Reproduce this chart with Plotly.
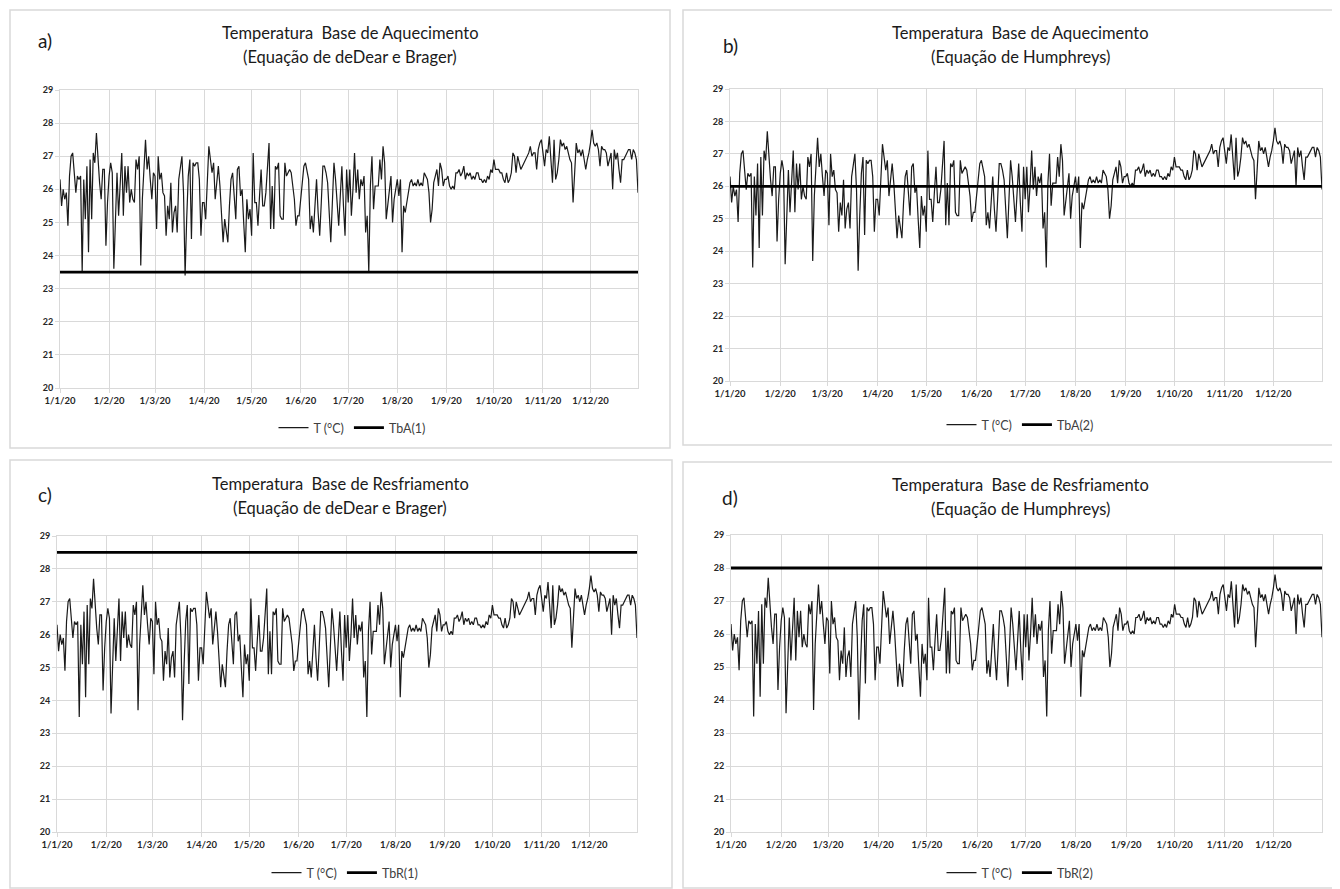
import pandas as pd
import plotly.graph_objects as go

# ---------------- data (daily mean temperature, 2020) ----------------
jan = [26.3, 25.5, 26.0, 25.7, 25.9, 24.9, 26.4, 27.0, 27.1, 26.6, 25.9, 26.4, 26.3, 26.4, 23.5, 26.3,
       25.1, 26.7, 24.1, 26.9, 25.1, 27.1, 26.8, 27.7, 26.9, 26.2, 25.7, 26.6, 26.6, 24.3, 25.6]
feb = [26.4, 26.8, 26.5, 23.6, 25.2, 26.5, 25.2, 26.3, 27.1, 25.2, 26.7, 25.9, 26.7, 25.6, 26.0,
       25.7, 25.6, 26.9, 26.6, 27.0, 23.7, 25.7, 26.6, 27.5, 26.6, 27.0, 26.3, 25.7, 26.5]
mar = [26.4, 24.8, 27.0, 26.3, 26.5, 25.9, 25.8, 24.6, 25.5, 25.1, 26.2, 24.7, 25.3, 25.5, 24.7, 26.3,
       26.6, 27.0, 25.9, 23.4, 25.1, 26.4, 26.9, 24.5, 26.8, 26.7, 26.8, 26.8, 26.3, 24.6, 25.6]
apr = [25.6, 25.1, 26.4, 27.3, 26.9, 26.5, 26.8, 25.7, 26.2, 26.7, 26.1, 25.2, 24.4, 25.1, 24.8,
       24.4, 25.5, 26.3, 26.5, 25.8, 25.1, 26.6, 26.7, 25.8, 26.0, 25.0, 24.1, 25.7, 25.1, 25.4]
may = [24.6, 27.1, 25.6, 25.6, 24.9, 25.8, 26.6, 25.5, 25.5, 25.9, 26.8, 27.4, 24.8, 26.1, 24.8, 26.7,
       26.6, 26.8, 25.2, 25.1, 25.1, 26.8, 26.4, 26.5, 26.6, 26.5, 26.0, 25.7, 24.9, 25.2, 25.2]
jun = [25.7, 26.2, 26.7, 26.8, 26.5, 26.3, 24.8, 25.2, 24.7, 25.5, 26.3, 25.3, 24.6, 25.6, 26.7,
       26.7, 26.5, 26.2, 25.3, 24.4, 25.6, 26.8, 26.3, 25.6, 24.9, 25.8, 26.7, 25.5, 24.6, 26.6]
jul = [25.6, 26.6, 25.2, 26.0, 27.1, 25.9, 26.6, 25.7, 26.3, 26.1, 26.4, 24.7, 25.2, 23.5, 26.1, 27.0,
       25.4, 26.1, 26.1, 26.1, 26.9, 26.3, 27.3, 26.8, 25.1, 25.6, 26.0, 26.4, 25.0, 25.7, 26.0]
aug = [26.3, 25.8, 26.3, 24.1, 25.5, 25.3, 25.6, 25.8, 26.2, 26.3, 26.1, 26.2, 26.1, 26.3, 26.1, 26.2,
       26.1, 26.5, 26.4, 26.3, 25.9, 25.0, 25.4, 26.2, 26.4, 26.6, 26.1, 26.8, 26.6, 26.1, 26.3]
sep = [26.3, 26.4, 26.1, 26.0, 26.1, 26.0, 26.5, 26.5, 26.6, 26.4, 26.5, 26.7, 26.3, 26.5, 26.4,
       26.5, 26.3, 26.4, 26.3, 26.5, 26.5, 26.3, 26.3, 26.2, 26.3, 26.2, 26.4, 26.3, 26.6, 26.5]
oct_ = [26.9, 26.6, 26.6, 26.6, 26.5, 26.5, 26.3, 26.2, 26.5, 26.2, 26.3, 26.5, 27.1, 27.0, 26.5, 27.0,
        26.8, 26.6, 26.7, 26.8, 26.9, 27.0, 27.1, 27.3, 27.0, 27.1, 27.1, 26.6, 27.2, 27.4, 27.5]
nov = [27.1, 26.7, 27.2, 27.1, 27.6, 27.0, 26.2, 27.5, 26.3, 26.5, 26.9, 27.5, 27.3, 27.4, 27.2,
       27.3, 27.1, 26.9, 26.8, 25.6, 26.5, 27.4, 27.1, 27.2, 27.0, 27.2, 26.9, 26.6, 26.9, 27.1]
dec = [27.4, 27.8, 27.4, 27.3, 27.4, 27.2, 26.7, 27.3, 27.2, 27.2, 27.1, 26.7, 26.9, 27.1, 26.0, 27.2,
       26.9, 27.1, 26.6, 26.2, 26.9, 26.9, 27.0, 27.1, 27.2, 27.2, 26.9, 27.2, 27.1, 26.9, 25.9]

temps = jan + feb + mar + apr + may + jun + jul + aug + sep + oct_ + nov + dec
dates = pd.date_range("2020-01-01", periods=len(temps), freq="D")

# base temperatures
TbA1 = 23.5
TbA2 = 26.0
TbR1 = 28.5
TbR2 = 28.0

month_starts = pd.date_range("2020-01-01", "2020-12-01", freq="MS")
tick_text = [f"1/{d.month}/20" for d in month_starts]

panels = [
    dict(label="a)", t1="Temperatura  Base de Aquecimento", t2="(Equação de deDear e Brager)",
         base=TbA1, bname="TbA(1)"),
    dict(label="b)", t1="Temperatura  Base de Aquecimento", t2="(Equação de Humphreys)",
         base=TbA2, bname="TbA(2)"),
    dict(label="c)", t1="Temperatura  Base de Resfriamento", t2="(Equação de deDear e Brager)",
         base=TbR1, bname="TbR(1)"),
    dict(label="d)", t1="Temperatura  Base de Resfriamento", t2="(Equação de Humphreys)",
         base=TbR2, bname="TbR(2)"),
]

# ---------------- layout geometry (page pixels) ----------------
OFF = 8                      # page body margin
W, H = 1340 - OFF, 889 - OFF
geo = [
    dict(px=(60, 638), py=(90, 388), box=(10, 10, 670, 448), lab=(45, 40), tc=350, ty=(33, 57), lc=352, ly=428),
    dict(px=(730, 1322), py=(89, 381), box=(683, 10, 1339, 445), lab=(730, 45), tc=1020, ty=(33, 57), lc=1020, ly=425),
    dict(px=(57, 637), py=(536, 832), box=(10, 460, 672, 888), lab=(45, 494), tc=340, ty=(484, 508), lc=345, ly=873),
    dict(px=(731, 1322), py=(535, 832), box=(683, 462, 1339, 888), lab=(730, 497), tc=1020, ty=(485, 509), lc=1020, ly=873),
]

def fx(p):
    return (p - OFF) / W

def fy(p):
    return 1 - (p - OFF) / H

FONT = "Lato, Carlito, 'Open Sans', sans-serif"
GRID = "#d9d9d9"

fig = go.Figure()
layout = dict(template="none", width=W, height=H, autosize=False,
              margin=dict(l=0, r=0, t=0, b=0, pad=0, autoexpand=False),
              paper_bgcolor="white", plot_bgcolor="white", showlegend=True,
              font=dict(family=FONT, color="#262626"))
annotations = []
shapes = []

for i, (p, g) in enumerate(zip(panels, geo)):
    n = "" if i == 0 else str(i + 1)
    xa, ya = "x" + n, "y" + n
    leg = "legend" + n
    fig.add_trace(go.Scatter(x=dates, y=temps, mode="lines", name="T (°C)",
                             line=dict(color="#1a1a1a", width=1.2),
                             xaxis=xa, yaxis=ya, legend=leg))
    fig.add_trace(go.Scatter(x=[dates[0], dates[-1]], y=[p["base"], p["base"]], mode="lines",
                             name=p["bname"], line=dict(color="black", width=2.8),
                             xaxis=xa, yaxis=ya, legend=leg))
    layout["xaxis" + n] = dict(
        domain=[fx(g["px"][0]), fx(g["px"][1])], anchor=ya, type="date",
        range=[dates[0], dates[-1]], tickvals=list(month_starts), ticktext=tick_text,
        showgrid=True, gridcolor=GRID, gridwidth=1, showline=True, linecolor=GRID,
        linewidth=1, mirror=True, ticks="outside", ticklen=4, tickcolor=GRID,
        tickfont=dict(family=FONT, size=9.5, color="#262626", weight="bold"), zeroline=False,
        automargin=False, fixedrange=True)
    layout["yaxis" + n] = dict(
        domain=[fy(g["py"][1]), fy(g["py"][0])], anchor=xa, range=[20, 29], dtick=1,
        tick0=20, showgrid=True, gridcolor=GRID, gridwidth=1, showline=True,
        linecolor=GRID, linewidth=1, mirror=True, ticks="outside", ticklen=4,
        tickcolor=GRID, tickfont=dict(family=FONT, size=9, color="#262626", weight="bold"),
        zeroline=False, automargin=False, fixedrange=True)
    layout[leg] = dict(orientation="h", x=fx(g["lc"]), y=fy(g["ly"]), xanchor="center",
                       yanchor="middle", font=dict(family=FONT, size=12.5, color="#404040"),
                       bgcolor="rgba(0,0,0,0)", itemwidth=30, tracegroupgap=0)
    annotations.append(dict(text=p["t1"], x=fx(g["tc"]), y=fy(g["ty"][0]), xref="paper",
                            yref="paper", showarrow=False, xanchor="center", yanchor="middle",
                            font=dict(family=FONT, size=16.5, color="#1a1a1a")))
    annotations.append(dict(text=p["t2"], x=fx(g["tc"]), y=fy(g["ty"][1]), xref="paper",
                            yref="paper", showarrow=False, xanchor="center", yanchor="middle",
                            font=dict(family=FONT, size=16.5, color="#1a1a1a")))
    annotations.append(dict(text=p["label"], x=fx(g["lab"][0]), y=fy(g["lab"][1]), xref="paper",
                            yref="paper", showarrow=False, xanchor="center", yanchor="middle",
                            font=dict(family=FONT, size=19, color="#1a1a1a")))
    bx = g["box"]
    shapes.append(dict(type="rect", xref="paper", yref="paper", x0=fx(bx[0]), x1=fx(bx[2]),
                       y0=fy(bx[3]), y1=fy(bx[1]), line=dict(color=GRID, width=1.5),
                       fillcolor="rgba(0,0,0,0)", layer="below"))

layout["annotations"] = annotations
layout["shapes"] = shapes
fig.update_layout(**layout)
fig.write_html("out.html")
